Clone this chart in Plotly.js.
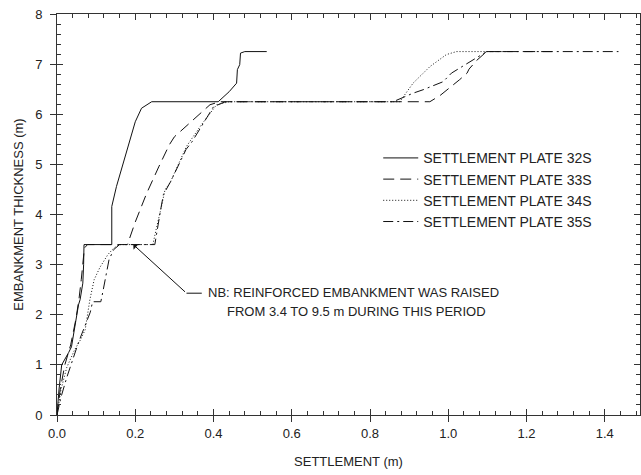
<!DOCTYPE html>
<html>
<head>
<meta charset="utf-8">
<script src="https://cdn.plot.ly/plotly-3.0.1.min.js"></script>
<style>html,body{margin:0;padding:0;background:#fff;}#chart{width:641px;height:475px;}</style>
</head>
<body>
<div id="chart"></div>
<script>
// Settlement plate 32S (solid)
const x32 = [0, 0.005, 0.012, 0.02, 0.03, 0.037, 0.046, 0.055, 0.059, 0.066, 0.068, 0.069, 0.14, 0.14, 0.152, 0.17, 0.185, 0.2, 0.216, 0.242, 0.412, 0.44, 0.459, 0.461, 0.467, 0.469, 0.48, 0.536];
const y32 = [0, 0.5, 1.0, 1.1, 1.25, 1.36, 1.83, 2.2, 2.3, 2.63, 3.0, 3.4, 3.4, 4.16, 4.56, 5.05, 5.49, 5.85, 6.12, 6.25, 6.25, 6.45, 6.62, 6.89, 6.99, 7.22, 7.25, 7.25];
// Settlement plate 33S (dashed)
const x33 = [0, 0.008, 0.02, 0.035, 0.048, 0.056, 0.062, 0.066, 0.07, 0.078, 0.18, 0.2, 0.229, 0.26, 0.287, 0.3, 0.35, 0.391, 0.416, 0.953, 0.98, 1.0, 1.029, 1.048, 1.053, 1.072, 1.098, 1.27];
const y33 = [0, 0.5, 1.0, 1.4, 1.9, 2.3, 2.7, 3.1, 3.33, 3.4, 3.4, 3.85, 4.42, 4.95, 5.39, 5.55, 5.9, 6.19, 6.25, 6.25, 6.38, 6.5, 6.69, 6.82, 6.9, 7.07, 7.25, 7.25];
// Settlement plate 34S (dotted)
const x34 = [0, 0.01, 0.025, 0.045, 0.06, 0.072, 0.084, 0.095, 0.11, 0.13, 0.145, 0.16, 0.245, 0.25, 0.255, 0.267, 0.276, 0.29, 0.331, 0.37, 0.408, 0.44, 0.876, 0.91, 0.953, 0.995, 1.021, 1.15];
const y34 = [0, 0.5, 0.95, 1.3, 1.5, 1.7, 2.3, 2.7, 2.95, 3.2, 3.33, 3.4, 3.4, 3.6, 3.76, 4.16, 4.49, 4.65, 5.36, 5.8, 6.19, 6.25, 6.25, 6.62, 6.95, 7.19, 7.25, 7.25];
// Settlement plate 35S (dash-dot)
const x35 = [0, 0.01, 0.025, 0.04, 0.055, 0.07, 0.085, 0.091, 0.112, 0.117, 0.125, 0.133, 0.145, 0.16, 0.25, 0.253, 0.258, 0.265, 0.272, 0.29, 0.33, 0.345, 0.4, 0.43, 0.859, 0.91, 0.936, 0.987, 1.008, 1.029, 1.08, 1.098, 1.435];
const y35 = [0, 0.35, 0.75, 1.1, 1.45, 1.75, 2.05, 2.26, 2.26, 2.45, 2.8, 3.1, 3.3, 3.4, 3.4, 3.55, 3.8, 4.1, 4.4, 4.65, 5.3, 5.45, 6.15, 6.25, 6.25, 6.42, 6.49, 6.65, 6.82, 6.92, 7.15, 7.25, 7.25];

const seriesNames = ['SETTLEMENT PLATE 32S', 'SETTLEMENT PLATE 33S', 'SETTLEMENT PLATE 34S', 'SETTLEMENT PLATE 35S'];
const xTitle = 'SETTLEMENT (m)';
const yTitle = 'EMBANKMENT THICKNESS (m)';
const noteLine1 = 'NB: REINFORCED EMBANKMENT WAS RAISED';
const noteLine2 = 'FROM 3.4 TO 9.5 m DURING THIS PERIOD';

const FONT = 'Liberation Sans, Arial, sans-serif';
const TXT = '#222';
const AX = '#333';

const dashes = ['solid', '11px,6px', '1px,2px', '10px,4px,2px,4px'];
const xs = [x32, x33, x34, x35];
const ys = [y32, y33, y34, y35];

const traces = xs.map((xv, i) => ({
  x: xv, y: ys[i], type: 'scatter', mode: 'lines', name: seriesNames[i],
  line: {color: '#111', width: 1, dash: dashes[i]}
}));
// invisible helper trace so the overlay axes (outer tick stubs) render
traces.push({x: [0], y: [0], xaxis: 'x2', yaxis: 'y2', mode: 'markers', marker: {opacity: 0}, showlegend: false, hoverinfo: 'skip'});

const xRange = [0, 1.49];
const yRange = [0, 8];

const layout = {
  width: 641, height: 475,
  margin: {l: 57, r: 1, t: 14, b: 60},
  paper_bgcolor: '#fff', plot_bgcolor: '#fff',
  font: {family: FONT, size: 13, color: TXT},
  showlegend: true,
  legend: {x: 0.551, y: 0.68, xanchor: 'left', yanchor: 'top', bgcolor: 'rgba(0,0,0,0)',
           itemwidth: 35,
           font: {family: FONT, size: 14, color: TXT}, tracegroupgap: 0},
  xaxis: {range: xRange, dtick: 0.2, tick0: 0, tickformat: '.1f', ticks: 'inside', ticklen: 6,
          tickcolor: AX, linecolor: AX, showline: true, mirror: 'allticks', showgrid: false, zeroline: false,
          minor: {dtick: 0.04, ticks: 'inside', ticklen: 4, tickcolor: AX, showgrid: false},
          ticklabelstandoff: 6,
          title: {text: xTitle, font: {family: FONT, size: 13, color: TXT}, standoff: 17},
          tickfont: {family: FONT, size: 13, color: TXT}},
  yaxis: {range: yRange, dtick: 1, tick0: 0, ticks: 'inside', ticklen: 6,
          tickcolor: AX, linecolor: AX, showline: true, mirror: 'allticks', showgrid: false, zeroline: false,
          minor: {dtick: 0.2, ticks: 'inside', ticklen: 4, tickcolor: AX, showgrid: false},
          ticklabelstandoff: 11,
          title: {text: yTitle, font: {family: FONT, size: 13, color: TXT}, standoff: 8},
          tickfont: {family: FONT, size: 13, color: TXT}},
  xaxis2: {overlaying: 'x', anchor: 'y2', side: 'bottom', range: xRange, dtick: 0.2, tick0: 0,
           ticks: 'outside', ticklen: 6, tickcolor: AX, showticklabels: false, showline: false,
           showgrid: false, zeroline: false},
  yaxis2: {overlaying: 'y', anchor: 'x2', side: 'left', range: yRange, dtick: 1, tick0: 0,
           ticks: 'outside', ticklen: 6, tickcolor: AX, showticklabels: false, showline: false,
           showgrid: false, zeroline: false},
  shapes: [
    {type: 'line', xref: 'x', yref: 'y', x0: 0.331, y0: 2.43, x1: 0.37, y1: 2.43, line: {color: '#111', width: 1}}
  ],
  annotations: [
    {x: 0.195, y: 3.4, ax: 0.331, ay: 2.43, axref: 'x', ayref: 'y', xref: 'x', yref: 'y', text: '',
     showarrow: true, arrowhead: 1, arrowsize: 1.2, arrowwidth: 1, arrowcolor: '#111'},
    {x: 0.381, y: 2.435, xref: 'x', yref: 'y', text: noteLine1, showarrow: false, xanchor: 'left', yanchor: 'middle',
     font: {family: FONT, size: 13, color: TXT}},
    {x: 0.429, y: 2.056, xref: 'x', yref: 'y', text: noteLine2, showarrow: false, xanchor: 'left', yanchor: 'middle',
     font: {family: FONT, size: 13, color: TXT}}
  ]
};

Plotly.newPlot('chart', traces, layout, {displayModeBar: false, staticPlot: true});
</script>
</body>
</html>
